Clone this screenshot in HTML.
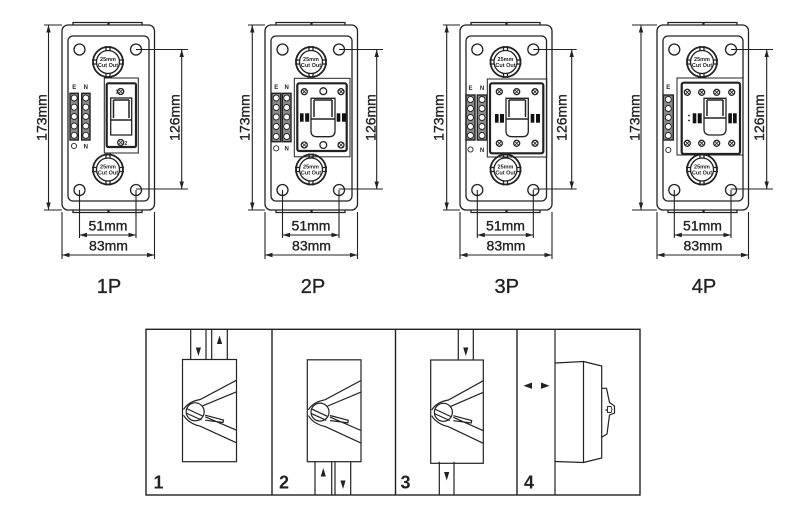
<!DOCTYPE html>
<html><head><meta charset="utf-8"><style>
html,body{margin:0;padding:0;background:#fff;}
svg{display:block;}
text{font-family:"Liberation Sans",Arial,sans-serif;fill:#222;}
.d{stroke:#222;stroke-width:0.35;}
</style></head><body>
<svg width="808" height="515" viewBox="0 0 808 515" xmlns="http://www.w3.org/2000/svg">
<rect width="808" height="515" fill="#fff"/>

<!-- ============ UNIT 1 ============ -->
<g transform="translate(62,0)">
 <g fill="none" stroke="#222" stroke-width="1.3">
  <path d="M11,25V22.5H46V25M47,25V22.5H80V25M11,210V212.5H46V210M47,210V212.5H80V210"/>
  <rect x="0" y="25" width="92.5" height="185" rx="6"/>
  <rect x="6" y="36" width="81" height="165" rx="5"/>
  <circle cx="17.5" cy="49.5" r="5.5"/><circle cx="74" cy="49.5" r="5.5"/><circle cx="17.5" cy="190" r="5.5"/><circle cx="74" cy="190" r="5.5"/>
  <circle cx="46" cy="62" r="15" stroke-width="1.8"/><circle cx="46" cy="62" r="11.5"/>
  <path d="M44,46V50.5M48,46V50.5M44,73.5V78M48,73.5V78M30,60H34.5M30,64H34.5M57.5,60H62M57.5,64H62"/>
  <circle cx="46" cy="169.5" r="15" stroke-width="1.8"/><circle cx="46" cy="169.5" r="11.5"/>
  <path d="M44,153.5V158M48,153.5V158M44,181V185.5M48,181V185.5M30,167.5H34.5M30,171.5H34.5M57.5,167.5H62M57.5,171.5H62"/>
  <path d="M-18,25H0M-18,210H0M-13.5,25V210M17.5,190V238M74,190V238M17.5,235H74M0,212V259M92.5,212V259M0,255H92.5M74,49.5H126M74,189H126M119.7,49.5V189" stroke-width="1.1"/>
  <rect x="42.3" y="78" width="34" height="75" stroke-width="1"/>
  <rect x="44.7" y="83.3" width="29.3" height="63.7" stroke-width="2.2" rx="1.5"/>
  <rect x="48.7" y="98" width="21" height="37"/>
  <path d="M48.7,120H69.7M51.5,100V118M67,100V118M51.5,100H67" stroke-width="1.5"/>
  <circle cx="58.7" cy="91.5" r="3"/><circle cx="58.7" cy="142.5" r="3"/>
  <path d="M56.7,89.5l4,4m0,-4l-4,4M56.7,140.5l4,4m0,-4l-4,4" stroke-width="0.8"/>
  <rect x="8" y="93.3" width="8.3" height="46.7" fill="#8a8a8a" stroke-width="1.4"/>
  <rect x="19.7" y="93.3" width="8.3" height="46.7" fill="#8a8a8a" stroke-width="1.4"/>
 </g>
 <g fill="#fff" stroke="#222" stroke-width="0.9">
  <circle cx="12.2" cy="98" r="3"/><circle cx="12.2" cy="107.2" r="3"/><circle cx="12.2" cy="116.5" r="3"/><circle cx="12.2" cy="126" r="3"/><circle cx="12.2" cy="135.3" r="3"/>
  <circle cx="23.8" cy="98" r="3"/><circle cx="23.8" cy="107.2" r="3"/><circle cx="23.8" cy="116.5" r="3"/><circle cx="23.8" cy="126" r="3"/><circle cx="23.8" cy="135.3" r="3"/>
  <circle cx="12" cy="146" r="2.6"/>
 </g>
 <g fill="#222">
  <path d="M-13.5,25l-2.2,7.5h4.4zM-13.5,210l-2.2,-7.5h4.4zM119.7,49.5l-2.2,7.5h4.4zM119.7,189l-2.2,-7.5h4.4zM17.5,235l7.5,-2.2v4.4zM74,235l-7.5,-2.2v4.4zM0,255l7.5,-2.2v4.4zM92.5,255l-7.5,-2.2v4.4z"/>
 </g>
 <text x="46" y="61" font-size="5.5" font-weight="bold" text-anchor="middle">25mm</text>
 <text x="46" y="67" font-size="5.5" font-weight="bold" text-anchor="middle">Cut Out</text>
 <text x="46" y="168.5" font-size="5.5" font-weight="bold" text-anchor="middle">25mm</text>
 <text x="46" y="174.5" font-size="5.5" font-weight="bold" text-anchor="middle">Cut Out</text>
 <text x="12.2" y="89" font-size="6" font-weight="bold" text-anchor="middle">E</text>
 <text x="23.8" y="89" font-size="6" font-weight="bold" text-anchor="middle">N</text>
 <text x="23.8" y="148.5" font-size="6" font-weight="bold" text-anchor="middle">N</text>
 <text x="53.5" y="93.5" font-size="5" font-weight="bold">1</text>
 <text x="62.5" y="145" font-size="5" font-weight="bold">2</text>
 <text class="d" transform="translate(-15.3,117.5) rotate(-90)" font-size="14" text-anchor="middle">173mm</text>
 <text class="d" transform="translate(117.3,117.5) rotate(-90)" font-size="14" text-anchor="middle">126mm</text>
 <text class="d" x="46" y="230.5" font-size="14" text-anchor="middle">51mm</text>
 <text class="d" x="46.5" y="250.5" font-size="14" text-anchor="middle">83mm</text>
 <text class="d" x="47" y="293" font-size="20" text-anchor="middle">1P</text>
</g>

<!-- ============ UNIT 2 ============ -->
<g transform="translate(265,0)">
 <g fill="none" stroke="#222" stroke-width="1.3">
  <path d="M11,25V22.5H46V25M47,25V22.5H80V25M11,210V212.5H46V210M47,210V212.5H80V210"/>
  <rect x="0" y="25" width="92.5" height="185" rx="6"/>
  <rect x="6" y="36" width="81" height="165" rx="5"/>
  <circle cx="17.5" cy="49.5" r="5.5"/><circle cx="74" cy="49.5" r="5.5"/><circle cx="17.5" cy="190" r="5.5"/><circle cx="74" cy="190" r="5.5"/>
  <circle cx="46" cy="62" r="15" stroke-width="1.8"/><circle cx="46" cy="62" r="11.5"/>
  <path d="M44,46V50.5M48,46V50.5M44,73.5V78M48,73.5V78M30,60H34.5M30,64H34.5M57.5,60H62M57.5,64H62"/>
  <circle cx="46" cy="169.5" r="15" stroke-width="1.8"/><circle cx="46" cy="169.5" r="11.5"/>
  <path d="M44,153.5V158M48,153.5V158M44,181V185.5M48,181V185.5M30,167.5H34.5M30,171.5H34.5M57.5,167.5H62M57.5,171.5H62"/>
  <path d="M-17,25H0M-17,210H0M-12.7,25V210M17.5,190V238M74,190V238M17.5,235H74M0,212V259M92.5,212V259M0,255H92.5M74,49.5H118M74,189H118M111.7,49.5V189" stroke-width="1.1"/>
  <rect x="29.3" y="78.3" width="55.7" height="78.5" stroke-width="1"/>
  <rect x="32.3" y="83.3" width="49.4" height="67.7" stroke-width="2.2" rx="2"/>
  <path d="M46,98.3H70V131Q70,136.7 64,136.7H52Q46,136.7 46,131Z"/>
  <path d="M46,119H70M49,100V117M67,100V117M49,100H67" stroke-width="1.5"/>
  <circle cx="39.3" cy="91.7" r="3"/><circle cx="58.3" cy="91.2" r="3.4"/><circle cx="76" cy="91.7" r="3"/>
  <circle cx="39.3" cy="145" r="3"/><circle cx="58.3" cy="145" r="3.4"/><circle cx="76" cy="145" r="3"/>
  <path d="M37.3,89.7l4,4m0,-4l-4,4M74,89.7l4,4m0,-4l-4,4M37.3,143l4,4m0,-4l-4,4M74,143l4,4m0,-4l-4,4" stroke-width="0.8"/>
  <rect x="6.7" y="93.3" width="9" height="48.4" fill="#8a8a8a" stroke-width="1.4"/>
  <rect x="17.3" y="93.3" width="8.7" height="48.4" fill="#8a8a8a" stroke-width="1.4"/>
 </g>
 <g fill="#111">
  <rect x="35" y="113.3" width="3.6" height="8.4"/><rect x="40.2" y="113.3" width="4" height="8.4"/>
  <rect x="71.7" y="113.3" width="3.6" height="8.4"/><rect x="77" y="113.3" width="4" height="8.4"/>
 </g>
 <g fill="#fff" stroke="#222" stroke-width="0.9">
  <circle cx="11.2" cy="98" r="3"/><circle cx="11.2" cy="107.5" r="3"/><circle cx="11.2" cy="117" r="3"/><circle cx="11.2" cy="126.5" r="3"/><circle cx="11.2" cy="136.5" r="3"/>
  <circle cx="21.7" cy="98" r="3"/><circle cx="21.7" cy="107.5" r="3"/><circle cx="21.7" cy="117" r="3"/><circle cx="21.7" cy="126.5" r="3"/><circle cx="21.7" cy="136.5" r="3"/>
  <circle cx="11.2" cy="148.3" r="2.6"/>
 </g>
 <g fill="#222">
  <path d="M-12.7,25l-2.2,7.5h4.4zM-12.7,210l-2.2,-7.5h4.4zM111.7,49.5l-2.2,7.5h4.4zM111.7,189l-2.2,-7.5h4.4zM17.5,235l7.5,-2.2v4.4zM74,235l-7.5,-2.2v4.4zM0,255l7.5,-2.2v4.4zM92.5,255l-7.5,-2.2v4.4z"/>
 </g>
 <text x="46" y="61" font-size="5.5" font-weight="bold" text-anchor="middle">25mm</text>
 <text x="46" y="67" font-size="5.5" font-weight="bold" text-anchor="middle">Cut Out</text>
 <text x="46" y="168.5" font-size="5.5" font-weight="bold" text-anchor="middle">25mm</text>
 <text x="46" y="174.5" font-size="5.5" font-weight="bold" text-anchor="middle">Cut Out</text>
 <text x="11.2" y="89" font-size="6" font-weight="bold" text-anchor="middle">E</text>
 <text x="21.7" y="89" font-size="6" font-weight="bold" text-anchor="middle">N</text>
 <text x="21.7" y="150.5" font-size="6" font-weight="bold" text-anchor="middle">N</text>
 <text class="d" transform="translate(-15.7,117.5) rotate(-90)" font-size="14" text-anchor="middle">173mm</text>
 <text class="d" transform="translate(110.5,117.5) rotate(-90)" font-size="14" text-anchor="middle">126mm</text>
 <text class="d" x="46" y="230.5" font-size="14" text-anchor="middle">51mm</text>
 <text class="d" x="46.5" y="250.5" font-size="14" text-anchor="middle">83mm</text>
 <text class="d" x="48" y="293" font-size="20" text-anchor="middle">2P</text>
</g>

<!-- ============ UNIT 3 ============ -->
<g transform="translate(460,0)">
 <g fill="none" stroke="#222" stroke-width="1.3">
  <path d="M11,25V22.5H46V25M47,25V22.5H80V25M11,210V212.5H46V210M47,210V212.5H80V210"/>
  <rect x="0" y="25" width="92" height="185" rx="6"/>
  <rect x="6" y="36" width="80.5" height="165" rx="5"/>
  <circle cx="17.3" cy="49.5" r="5.5"/><circle cx="73.3" cy="49.5" r="5.5"/><circle cx="17.3" cy="190" r="5.5"/><circle cx="73.3" cy="190" r="5.5"/>
  <circle cx="45.5" cy="62" r="15" stroke-width="1.8"/><circle cx="45.5" cy="62" r="11.5"/>
  <path d="M43.5,46V50.5M47.5,46V50.5M43.5,73.5V78M47.5,73.5V78M29.5,60H34M29.5,64H34M57,60H61.5M57,64H61.5"/>
  <circle cx="45.5" cy="169.5" r="15" stroke-width="1.8"/><circle cx="45.5" cy="169.5" r="11.5"/>
  <path d="M43.5,153.5V158M47.5,153.5V158M43.5,181V185.5M47.5,181V185.5M29.5,167.5H34M29.5,171.5H34M57,167.5H61.5M57,171.5H61.5"/>
  <path d="M-17,25H0M-17,210H0M-13.3,25V210M17.3,190V238M73.3,190V238M17.3,235H73.3M0,212V259M92,212V259M0,255H92M73.3,49.5H116.7M73.3,189H116.7M111.7,49.5V189" stroke-width="1.1"/>
  <rect x="27.3" y="79" width="59.4" height="78" stroke-width="1"/>
  <rect x="30" y="83.3" width="53.3" height="70" stroke-width="2.2" rx="2"/>
  <path d="M46,98.3H68.3V131Q68.3,136.7 62.5,136.7H52Q46,136.7 46,131Z"/>
  <path d="M46,119H68.3M49,100V117M65.5,100V117M49,100H65.5" stroke-width="1.5"/>
  <circle cx="39.3" cy="91.7" r="3"/><circle cx="56.7" cy="91.7" r="3"/><circle cx="75" cy="91.7" r="3"/>
  <circle cx="39.3" cy="143.3" r="3"/><circle cx="56.7" cy="143.3" r="3"/><circle cx="75" cy="143.3" r="3"/>
  <path d="M37.3,89.7l4,4m0,-4l-4,4M54.7,89.7l4,4m0,-4l-4,4M73,89.7l4,4m0,-4l-4,4M37.3,141.3l4,4m0,-4l-4,4M54.7,141.3l4,4m0,-4l-4,4M73,141.3l4,4m0,-4l-4,4" stroke-width="0.8"/>
  <rect x="6" y="95" width="9" height="45" fill="#8a8a8a" stroke-width="1.4"/>
  <rect x="17.3" y="95" width="9.4" height="45" fill="#8a8a8a" stroke-width="1.4"/>
 </g>
 <g fill="#111">
  <rect x="35" y="114" width="3.6" height="8.7"/><rect x="40" y="114" width="4" height="8.7"/>
  <rect x="70.7" y="114" width="3.6" height="8.7"/><rect x="76" y="114" width="4" height="8.7"/>
 </g>
 <g fill="#fff" stroke="#222" stroke-width="0.9">
  <circle cx="10.5" cy="99.5" r="3"/><circle cx="10.5" cy="108.5" r="3"/><circle cx="10.5" cy="117.5" r="3"/><circle cx="10.5" cy="126.5" r="3"/><circle cx="10.5" cy="135.5" r="3"/>
  <circle cx="22" cy="99.5" r="3"/><circle cx="22" cy="108.5" r="3"/><circle cx="22" cy="117.5" r="3"/><circle cx="22" cy="126.5" r="3"/><circle cx="22" cy="135.5" r="3"/>
  <circle cx="10.5" cy="149.5" r="2.6"/>
 </g>
 <g fill="#222">
  <path d="M-13.3,25l-2.2,7.5h4.4zM-13.3,210l-2.2,-7.5h4.4zM111.7,49.5l-2.2,7.5h4.4zM111.7,189l-2.2,-7.5h4.4zM17.3,235l7.5,-2.2v4.4zM73.3,235l-7.5,-2.2v4.4zM0,255l7.5,-2.2v4.4zM92,255l-7.5,-2.2v4.4z"/>
 </g>
 <text x="45.5" y="61" font-size="5.5" font-weight="bold" text-anchor="middle">25mm</text>
 <text x="45.5" y="67" font-size="5.5" font-weight="bold" text-anchor="middle">Cut Out</text>
 <text x="45.5" y="168.5" font-size="5.5" font-weight="bold" text-anchor="middle">25mm</text>
 <text x="45.5" y="174.5" font-size="5.5" font-weight="bold" text-anchor="middle">Cut Out</text>
 <text x="10.5" y="90" font-size="6" font-weight="bold" text-anchor="middle">E</text>
 <text x="22" y="90" font-size="6" font-weight="bold" text-anchor="middle">N</text>
 <text x="22" y="152" font-size="6" font-weight="bold" text-anchor="middle">N</text>
 <text class="d" transform="translate(-16.7,117.5) rotate(-90)" font-size="14" text-anchor="middle">173mm</text>
 <text class="d" transform="translate(106.7,117.5) rotate(-90)" font-size="14" text-anchor="middle">126mm</text>
 <text class="d" x="45.5" y="230.5" font-size="14" text-anchor="middle">51mm</text>
 <text class="d" x="46" y="250.5" font-size="14" text-anchor="middle">83mm</text>
 <text class="d" x="46.7" y="293" font-size="20" text-anchor="middle">3P</text>
</g>

<!-- ============ UNIT 4 ============ -->
<g transform="translate(657,0)">
 <g fill="none" stroke="#222" stroke-width="1.3">
  <path d="M11,25V22.5H46V25M47,25V22.5H80V25M11,210V212.5H46V210M47,210V212.5H80V210"/>
  <rect x="0" y="25" width="91.5" height="185" rx="6"/>
  <rect x="6" y="36" width="80" height="165" rx="5"/>
  <circle cx="17.3" cy="49.5" r="5.5"/><circle cx="74" cy="49.5" r="5.5"/><circle cx="17.3" cy="190" r="5.5"/><circle cx="74" cy="190" r="5.5"/>
  <circle cx="45" cy="62" r="15" stroke-width="1.8"/><circle cx="45" cy="62" r="11.5"/>
  <path d="M43,46V50.5M47,46V50.5M43,73.5V78M47,73.5V78M29,60H33.5M29,64H33.5M56.5,60H61M56.5,64H61"/>
  <circle cx="45" cy="169.5" r="15" stroke-width="1.8"/><circle cx="45" cy="169.5" r="11.5"/>
  <path d="M43,153.5V158M47,153.5V158M43,181V185.5M47,181V185.5M29,167.5H33.5M29,171.5H33.5M56.5,167.5H61M56.5,171.5H61"/>
  <path d="M-25,25H0M-25,210H0M-16,25V210M17.3,190V238M74,190V238M17.3,235H74M0,212V259M91.5,212V259M0,255H91.5M74,49.5H116M74,189H116M109.7,49.5V189" stroke-width="1.1"/>
  <rect x="20" y="78" width="66" height="77" stroke-width="1"/>
  <rect x="24.7" y="82.7" width="58.3" height="71.3" stroke-width="2.2" rx="2"/>
  <path d="M47,98.3H69V129Q69,135 63,135H53Q47,135 47,129Z"/>
  <path d="M47,118H69M50,100V116M66,100V116M50,100H66" stroke-width="1.5"/>
  <circle cx="30.3" cy="92.3" r="3"/><circle cx="44.7" cy="92.3" r="3"/><circle cx="59.7" cy="92.3" r="3"/><circle cx="74.7" cy="92.3" r="3"/>
  <circle cx="30.3" cy="143.3" r="3"/><circle cx="44.7" cy="143.3" r="3"/><circle cx="59.7" cy="143.3" r="3"/><circle cx="74.7" cy="143.3" r="3"/>
  <path d="M28.3,90.3l4,4m0,-4l-4,4M42.7,90.3l4,4m0,-4l-4,4M57.7,90.3l4,4m0,-4l-4,4M72.7,90.3l4,4m0,-4l-4,4M28.3,141.3l4,4m0,-4l-4,4M42.7,141.3l4,4m0,-4l-4,4M57.7,141.3l4,4m0,-4l-4,4M72.7,141.3l4,4m0,-4l-4,4" stroke-width="0.8"/>
  <rect x="6.3" y="95" width="10" height="45" fill="#8a8a8a" stroke-width="1.4"/>
 </g>
 <g fill="#111">
  <rect x="35.7" y="113.3" width="3.6" height="10"/><rect x="40.7" y="113.3" width="4" height="10"/>
  <rect x="71.3" y="113.3" width="3.6" height="10"/><rect x="76" y="113.3" width="3.7" height="10"/>
  <circle cx="32" cy="115.5" r="0.9"/><circle cx="32" cy="120.5" r="0.9"/>
 </g>
 <g fill="#fff" stroke="#222" stroke-width="0.9">
  <circle cx="11.3" cy="99.5" r="3"/><circle cx="11.3" cy="108.5" r="3"/><circle cx="11.3" cy="117.5" r="3"/><circle cx="11.3" cy="126.5" r="3"/><circle cx="11.3" cy="135.5" r="3"/>
  <circle cx="11.3" cy="150" r="2.6"/>
 </g>
 <g fill="#222">
  <path d="M-16,25l-2.2,7.5h4.4zM-16,210l-2.2,-7.5h4.4zM109.7,49.5l-2.2,7.5h4.4zM109.7,189l-2.2,-7.5h4.4zM17.3,235l7.5,-2.2v4.4zM74,235l-7.5,-2.2v4.4zM0,255l7.5,-2.2v4.4zM91.5,255l-7.5,-2.2v4.4z"/>
 </g>
 <text x="45" y="61" font-size="5.5" font-weight="bold" text-anchor="middle">25mm</text>
 <text x="45" y="67" font-size="5.5" font-weight="bold" text-anchor="middle">Cut Out</text>
 <text x="45" y="168.5" font-size="5.5" font-weight="bold" text-anchor="middle">25mm</text>
 <text x="45" y="174.5" font-size="5.5" font-weight="bold" text-anchor="middle">Cut Out</text>
 <text x="11.3" y="89" font-size="6" font-weight="bold" text-anchor="middle">E</text>
 <text class="d" transform="translate(-17.7,117.5) rotate(-90)" font-size="14" text-anchor="middle">173mm</text>
 <text class="d" transform="translate(107,117.5) rotate(-90)" font-size="14" text-anchor="middle">126mm</text>
 <text class="d" x="45.5" y="230.5" font-size="14" text-anchor="middle">51mm</text>
 <text class="d" x="46" y="250.5" font-size="14" text-anchor="middle">83mm</text>
 <text class="d" x="47" y="293" font-size="20" text-anchor="middle">4P</text>
</g>

<!-- ============ BOTTOM PANEL ============ -->
<g fill="none" stroke="#222" stroke-width="1.4">
 <rect x="146" y="329.3" width="494" height="165.7"/>
 <path d="M272,329.3V495M395.5,329.3V495M517,329.3V495"/>
 <path d="M190.7,329.3V359.5M206,329.3V359.5M211.7,329.3V359.5M227.3,329.3V359.5" stroke-width="1.2"/>
 <path d="M315,461.7V495M331.7,461.7V495M335,461.7V495M350.7,461.7V495" stroke-width="1.2"/>
 <path d="M458.3,329.3V360M473.3,329.3V360M439.3,461.7V495M454,461.7V495" stroke-width="1.2"/>
 <path d="M555,329.3V495" stroke-width="1.2"/>
 <path d="M555,363L583.5,361.5V462.5L555,461.5M583.5,361.5L601.7,366V458L583.5,462.5" stroke-width="1.2"/>
 <path d="M601.7,388.3H606.5L609.5,402.5L614.5,406V413L609.5,415L607,434L601.7,437.3" stroke-width="1.2"/>
</g>
<g fill="#222">
 <path d="M198.4,356l-2.6,-8.5h5.2zM219.5,335.5l-2.6,8.5h5.2z"/>
 <path d="M323.3,468l-2.6,8.5h5.2zM343,489l-2.6,-8.5h5.2z"/>
 <path d="M465.8,356l-2.6,-8.5h5.2zM446.7,480.5l-2.6,-8.5h5.2z"/>
 <path d="M523.5,385.7l8.5,-3.2v6.4zM549.5,385.7l-8.5,-3.2v6.4z"/>
 <circle cx="606.3" cy="410" r="0.9"/>
</g>
<g fill="none" stroke="#222" stroke-width="0.9">
 <path d="M607.5,406.5h3.5l1,3l-1,3h-3.5z"/>
</g>

<g fill="none" stroke="#222" stroke-width="1.2">
 <g transform="translate(182.5,359.5)">
  <rect x="0" y="0" width="54" height="102.2"/>
  <circle cx="12.7" cy="52.3" r="9"/>
  <path d="M1,50Q6,42 17.7,40L54,20.7M19.3,46.7L54,32.3M1,55.7Q6,64 17.7,66.7L54,83.3M22.7,57.3L54,70.7M22.7,55.7L41,60.5L40.5,63L22.7,60.7M4,49L20,56.5M3.5,53.5L19,60.5"/>
 </g>
 <g transform="translate(307.3,359.8)">
  <rect x="0" y="0" width="53.7" height="101.9"/>
  <circle cx="12.7" cy="52.3" r="9"/>
  <path d="M1,50Q6,42 17.7,40L53.7,20.7M19.3,46.7L53.7,32.3M1,55.7Q6,64 17.7,66.7L53.7,83.3M22.7,57.3L53.7,70.7M22.7,55.7L41,60.5L40.5,63L22.7,60.7M4,49L20,56.5M3.5,53.5L19,60.5"/>
 </g>
 <g transform="translate(430.7,360)">
  <rect x="0" y="0" width="52.6" height="103.3"/>
  <circle cx="12.7" cy="52.3" r="9"/>
  <path d="M1,50Q6,42 17.7,40L52.6,20.7M19.3,46.7L52.6,32.3M1,55.7Q6,64 17.7,66.7L52.6,83.3M22.7,57.3L52.6,70.7M22.7,55.7L41,60.5L40.5,63L22.7,60.7M4,49L20,56.5M3.5,53.5L19,60.5"/>
 </g>
</g>

<text x="153.5" y="488.3" font-size="18" font-weight="bold">1</text>
<text x="279" y="488.3" font-size="18" font-weight="bold">2</text>
<text x="400.5" y="488.3" font-size="18" font-weight="bold">3</text>
<text x="524" y="488.3" font-size="18" font-weight="bold">4</text>
</svg>
</body></html>
